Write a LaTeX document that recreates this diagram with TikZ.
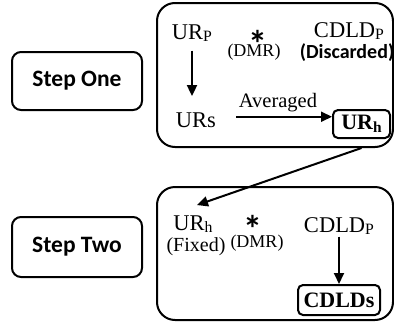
\documentclass[tikz,border=0pt]{standalone}
\usepackage{fontspec}
\setmainfont{Liberation Serif}
\newfontfamily\calib{Carlito}
\usetikzlibrary{arrows.meta}
% lowered, reduced index letter in the current font
\newcommand\lsub[1]{\raisebox{-2.5pt}{\scalebox{0.7}{#1}}}
\begin{document}
\begin{tikzpicture}[x=1pt,y=-1pt,
  panel/.style={draw, line width=2pt, rounded corners=18pt, inner sep=0pt},
  stepbox/.style={draw, line width=2pt, rounded corners=9pt, minimum width=130pt,
    inner sep=0pt, font=\calib\bfseries\fontsize{23.5}{26}\selectfont},
  result/.style={draw, line width=2pt, rounded corners=5pt, inner sep=0pt,
    font=\bfseries\fontsize{22}{24}\selectfont},
  lbl/.style={inner sep=0pt, anchor=base, font=\fontsize{22.5}{26}\selectfont},
  note/.style={inner sep=0pt, anchor=base, font=\fontsize{18}{20}\selectfont},
  boldnote/.style={inner sep=0pt, anchor=base, font=\calib\bfseries\fontsize{20}{22}\selectfont},
  % box trimmed to the glyph, which sits well above the baseline
  star/.style={inner sep=0pt, anchor=base, text height=27pt, text depth=-12pt,
    font=\calib\bfseries\fontsize{38}{40}\selectfont},
  arr/.style={line width=2pt, -{Triangle[length=11pt,width=10pt]}},
]
\useasboundingbox (0,0) rectangle (394,327);

% step labels
\node[stepbox, minimum height=58pt] (step1) at (77,81) {Step One};
\node[stepbox, minimum height=60pt] (step2) at (77,247) {Step Two};

% panels
\node[panel, minimum width=236pt, minimum height=144pt] (phase1) at (275,75) {};
\node[panel, minimum width=236pt, minimum height=133pt] (phase2) at (275,253.5) {};

% step one contents
\node[lbl] (urp) at (192,39) {UR\lsub{P}};
\node[star] (star1) at (258,57) {*};
\node[note] (dmr1) at (254,56) {(DMR)};
\node[lbl] (cdldp1) at (349,37) {CDLD\lsub{P}};
\node[boldnote] (disc) at (347,58) {(Discarded)};
\node[lbl] (urs) at (196,127) {URs};
\node[lbl, font=\fontsize{20.5}{24}\selectfont] (avg) at (278,107) {Averaged};
\node[result, minimum width=57pt, minimum height=28pt] (urh) at (361.5,124) {UR\lsub{h}};

\draw[arr] ([yshift=-9pt]urp.south) -- ([yshift=16pt]urs.north -| urp.south);
\draw[arr] ([xshift=20pt,yshift=3pt]urs.east) -- ([yshift=3pt]urs.east -| urh.west);

% step two contents
\node[lbl] (urh2) at (193,230) {UR\lsub{h}};
\node[note, font=\fontsize{20}{22}\selectfont] (fixed) at (196,251) {(Fixed)};
\node[star] (star2) at (253,242) {*};
\node[note] (dmr2) at (257,247) {(DMR)};
\node[lbl] (cdldp2) at (339,232) {CDLD\lsub{P}};
\node[result, minimum width=82pt, minimum height=30pt] (cdlds) at (339,300) {CDLDs};

\draw[arr] ([yshift=-2pt]cdldp2.south) -- (cdlds.north);

% hand-over of the averaged value
\draw[arr] (urh.south |- phase1.south) -- ([xshift=4pt,yshift=10pt]urh2.north);
\end{tikzpicture}
\end{document}
